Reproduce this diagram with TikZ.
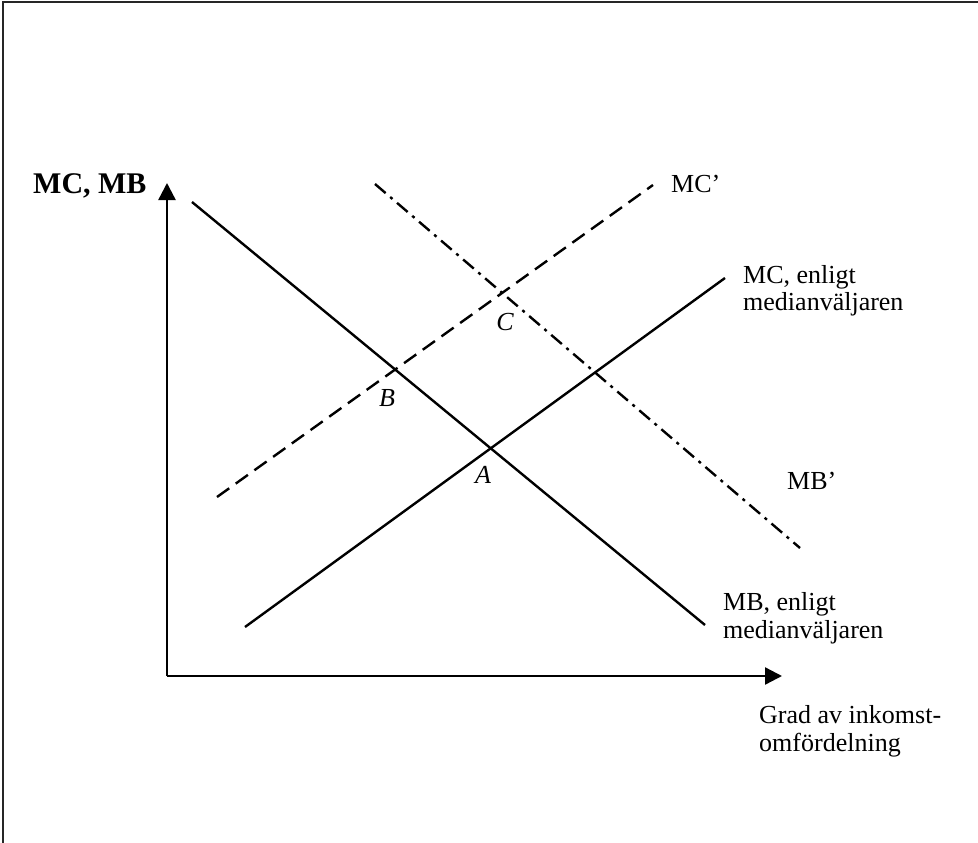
\documentclass[tikz,border=0pt]{standalone}
\usepackage{fontspec}
\setmainfont{Liberation Serif}
\usetikzlibrary{arrows.meta}
\begin{document}
\begin{tikzpicture}[x=1pt,y=-1pt,
  curve/.style={line width=2.4pt},
  dashcurve/.style={line width=2.4pt, dash pattern=on 15pt off 8pt},
  dotdash/.style={line width=2.4pt, dash pattern=on 14pt off 6pt on 3pt off 6pt},
  axis/.style={line width=2.4pt, -{Triangle[length=17pt,width=17pt]}},
  lbl/.style={font=\fontsize{26}{28}\selectfont, inner sep=0pt, anchor=base west},
  pt/.style={font=\fontsize{26}{28}\selectfont\itshape, inner sep=0pt}]
\useasboundingbox (0,0) rectangle (978,843);
% frame
\draw[line width=2.2pt, black!85] (3,843) -- (3,2) -- (978,2);
% axes
\coordinate (O) at (167,676);
\coordinate (ytip) at (167,183);
\coordinate (xtip) at (782,676);
\draw[axis] (O) -- (ytip);
\draw[axis] (O) -- (xtip);
% curves
\coordinate (mb1) at (192,202);
\coordinate (mb2) at (705,625);
\coordinate (mc1) at (245,627);
\coordinate (mc2) at (725,278);
\coordinate (mcp1) at (217,497);
\coordinate (mcp2) at (653,185);
\coordinate (mbp1) at (375,184);
\coordinate (mbp2) at (800,548);
\draw[curve] (mb1) -- (mb2);
\draw[curve] (mc1) -- (mc2);
\draw[dashcurve] (mcp1) -- (mcp2);
\draw[dotdash] (mbp1) -- (mbp2);
% labels
\node[lbl, font=\fontsize{30}{32}\selectfont\bfseries] (ylab) at (33,193) {MC, MB};
\node[lbl] (mcplab) at (671,192) {MC’};
\node[lbl] (mclab1) at (743,283) {MC, enligt};
\node[lbl] (mclab2) at (743,310) {medianväljaren};
\node[lbl] (mbplab) at (787,489) {MB’};
\node[lbl] (mblab1) at (723,610) {MB, enligt};
\node[lbl] (mblab2) at (723,638) {medianväljaren};
\node[lbl] (xlab1) at (759,723) {Grad av inkomst-};
\node[lbl] (xlab2) at (759,751) {omfördelning};
\node[pt] (A) at (483,475) {A};
\node[pt] (B) at (387,398) {B};
\node[pt] (C) at (505,322) {C};
\end{tikzpicture}
\end{document}
